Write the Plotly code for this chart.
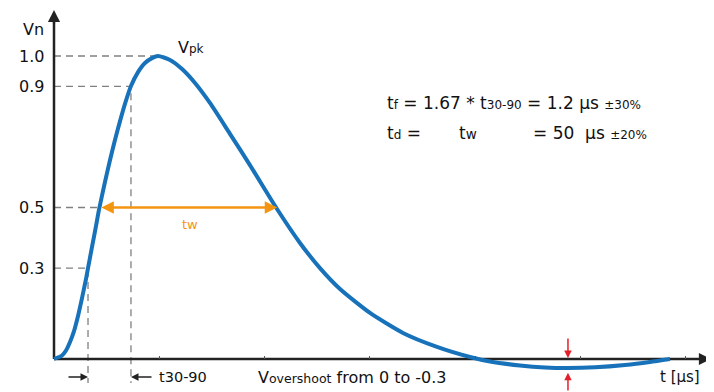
import plotly.graph_objects as go

# ---- data ----
t_curve = [0, 0.076, 0.114, 0.152, 0.190, 0.228, 0.266, 0.304, 0.323, 0.361, 0.399, 0.427,
           0.484, 0.532, 0.579, 0.627, 0.674, 0.731, 0.798, 0.864, 0.931, 0.988,
           1.102, 1.216, 1.339, 1.481, 1.671, 1.861, 2.118, 2.336, 2.526, 2.716, 3.001,
           3.314, 3.637, 3.951, 4.141, 4.425, 4.663, 4.881, 5.138, 5.423, 5.660, 5.850]
v_curve = [0, 0.0116, 0.028, 0.056, 0.092, 0.142, 0.201, 0.264, 0.300, 0.370, 0.439, 0.492,
           0.584, 0.657, 0.723, 0.785, 0.842, 0.901, 0.947, 0.977, 0.993, 1.0,
           0.987, 0.957, 0.911, 0.845, 0.743, 0.640, 0.495, 0.383, 0.300, 0.231, 0.152,
           0.086, 0.040, 0.0066, -0.0083, -0.0215, -0.028, -0.0297, -0.0274, -0.0198, -0.0099, 0]

y_tick_vals = [0.3, 0.5, 0.9, 1.0]
y_tick_text = ["0.3", "0.5", "0.9", "1.0"]
x_minor_ticks = [1, 2, 3, 4, 5, 6]

t30, t90, t50_rise, t50_fall, t_peak, t_min = 0.323, 0.731, 0.435, 2.12, 0.988, 4.881
v_peak, v_min = 1.0, -0.0297

# ---- styles ----
BLUE = "#1872BA"
ORANGE = "#F39512"
RED = "#E3202A"
GRAY = "#808080"
AXIS = "#222222"
FONT = "DejaVu Sans"

# page pixel geometry (the page body has an 8px margin)
PAGE_W, PAGE_H, OFF = 714, 392, 8
W, H = PAGE_W - OFF, PAGE_H - OFF
X0_PX, Y0_PX = 54, 359
PX_PER_T, PX_PER_V = 105.3, 303.0
x_range = [(OFF - X0_PX) / PX_PER_T, (PAGE_W - X0_PX) / PX_PER_T]
y_range = [(Y0_PX - PAGE_H) / PX_PER_V, (Y0_PX - OFF) / PX_PER_V]


def tx(px):
    return (px - X0_PX) / PX_PER_T


def vy(py):
    return (Y0_PX - py) / PX_PER_V


fig = go.Figure()

dash = dict(color=GRAY, width=1.3, dash="7px,5px")
v_low = vy(383)
# dashed guide lines
fig.add_trace(go.Scatter(x=[0, t_peak], y=[v_peak, v_peak], mode="lines", line=dash, hoverinfo="skip"))
fig.add_trace(go.Scatter(x=[0, t90, t90], y=[0.9, 0.9, v_low], mode="lines", line=dash, hoverinfo="skip"))
fig.add_trace(go.Scatter(x=[0, t50_rise], y=[0.5, 0.5], mode="lines", line=dash, hoverinfo="skip"))
fig.add_trace(go.Scatter(x=[0, t30, t30], y=[0.3, 0.3, v_low], mode="lines", line=dash, hoverinfo="skip"))

# axes lines
x_end = tx(711)
y_top = vy(10)
fig.add_trace(go.Scatter(x=[0, x_end - 0.06], y=[0, 0], mode="lines",
                         line=dict(color=AXIS, width=2.5), hoverinfo="skip"))
fig.add_trace(go.Scatter(x=[0, 0], y=[0, y_top - 0.02], mode="lines",
                         line=dict(color=AXIS, width=2.5), hoverinfo="skip"))

# main curve
fig.add_trace(go.Scatter(x=t_curve, y=v_curve, mode="lines",
                         line=dict(color=BLUE, width=4, shape="spline", smoothing=0.6),
                         hoverinfo="skip"))

ann = []
# axis arrowheads
ann.append(dict(x=0, y=y_top, ax=0, ay=y_top - 0.05, xref="x", yref="y", axref="x", ayref="y",
                text="", showarrow=True, arrowhead=2, arrowsize=1.1, arrowwidth=2.2, arrowcolor=AXIS))
ann.append(dict(x=x_end, y=0, ax=x_end - 0.15, ay=0, xref="x", yref="y", axref="x", ayref="y",
                text="", showarrow=True, arrowhead=2, arrowsize=1.1, arrowwidth=2.2, arrowcolor=AXIS))

# y tick labels
for v, s in zip(y_tick_vals, y_tick_text):
    ann.append(dict(x=0, y=v, xref="x", yref="y", text=s, showarrow=False, xanchor="right",
                    xshift=-8, font=dict(family=FONT, size=16, color="#111")))

# tw double arrow
ann.append(dict(x=t50_fall, y=0.5, ax=t50_rise, ay=0.5, xref="x", yref="y", axref="x", ayref="y",
                text="", showarrow=True, arrowhead=2, startarrowhead=2, arrowside="end+start",
                arrowsize=1.0, arrowwidth=2.5, arrowcolor=ORANGE))
ann.append(dict(x=tx(190), y=vy(224), xref="x", yref="y", text="tw",
                showarrow=False, font=dict(family=FONT, size=13, color=ORANGE)))

# red overshoot arrows
ann.append(dict(x=t_min, y=0.003, ax=t_min, ay=vy(337), xref="x", yref="y", axref="x", ayref="y",
                text="", showarrow=True, arrowhead=2, arrowsize=1.0, arrowwidth=1.5, arrowcolor=RED))
ann.append(dict(x=t_min, y=v_min - 0.016, ax=t_min, ay=y_range[0], xref="x", yref="y", axref="x",
                ayref="y", text="", showarrow=True, arrowhead=2, arrowsize=1.0, arrowwidth=1.5,
                arrowcolor=RED))

# t30-90 arrows
v_lbl = vy(377)
ann.append(dict(x=t30, y=v_lbl, ax=tx(67), ay=v_lbl, xref="x", yref="y", axref="x", ayref="y",
                text="", showarrow=True, arrowhead=2, arrowsize=1.0, arrowwidth=1.5, arrowcolor="#222"))
ann.append(dict(x=t90, y=v_lbl, ax=tx(153), ay=v_lbl, xref="x", yref="y", axref="x", ayref="y",
                text="", showarrow=True, arrowhead=2, arrowsize=1.0, arrowwidth=1.5, arrowcolor="#222"))


def sm(s, size):
    return '<span style="font-size:%spx">%s</span>' % (size, s)


def txt(px, py, s, size, anchor="left", color="#111"):
    ann.append(dict(x=tx(px), y=vy(py), xref="x", yref="y", text=s, showarrow=False,
                    xanchor=anchor, font=dict(family=FONT, size=size, color=color)))


txt(33, 29, "Vn", 16, "center")
txt(176, 47, "V" + sm("pk", 12), 16)
txt(157, 377, "t30-90", 14.5)
txt(256, 377, "V" + sm("overshoot", 12.5) + " from 0 to -0.3", 16)
txt(702, 377, "t [μs]", 15, "right")

txt(385, 103, "t" + sm("f", 12) + " = 1.67 * t" + sm("30-90", 12) + " = 1.2 μs " + sm("±30%", 12), 17)
txt(385, 133, "t" + sm("d", 12) + " =", 17)
txt(457, 133, "t" + sm("w", 13.5), 17)
txt(531, 133, "= 50  μs " + sm("±20%", 12), 17)

fig.update_layout(
    width=W, height=H, autosize=False,
    margin=dict(l=0, r=0, t=0, b=0),
    paper_bgcolor="white", plot_bgcolor="white",
    showlegend=False,
    annotations=ann,
    xaxis=dict(range=x_range, showgrid=False, zeroline=False, showline=False,
               showticklabels=False, ticks="inside", ticklen=3, tickwidth=1, tickcolor="#555",
               tickvals=x_minor_ticks, anchor="free", position=(PAGE_H - Y0_PX) / H,
               fixedrange=True),
    yaxis=dict(range=y_range, showgrid=False, zeroline=False, showline=False,
               showticklabels=False, ticks="", fixedrange=True),
)

fig.write_html("out.html")
